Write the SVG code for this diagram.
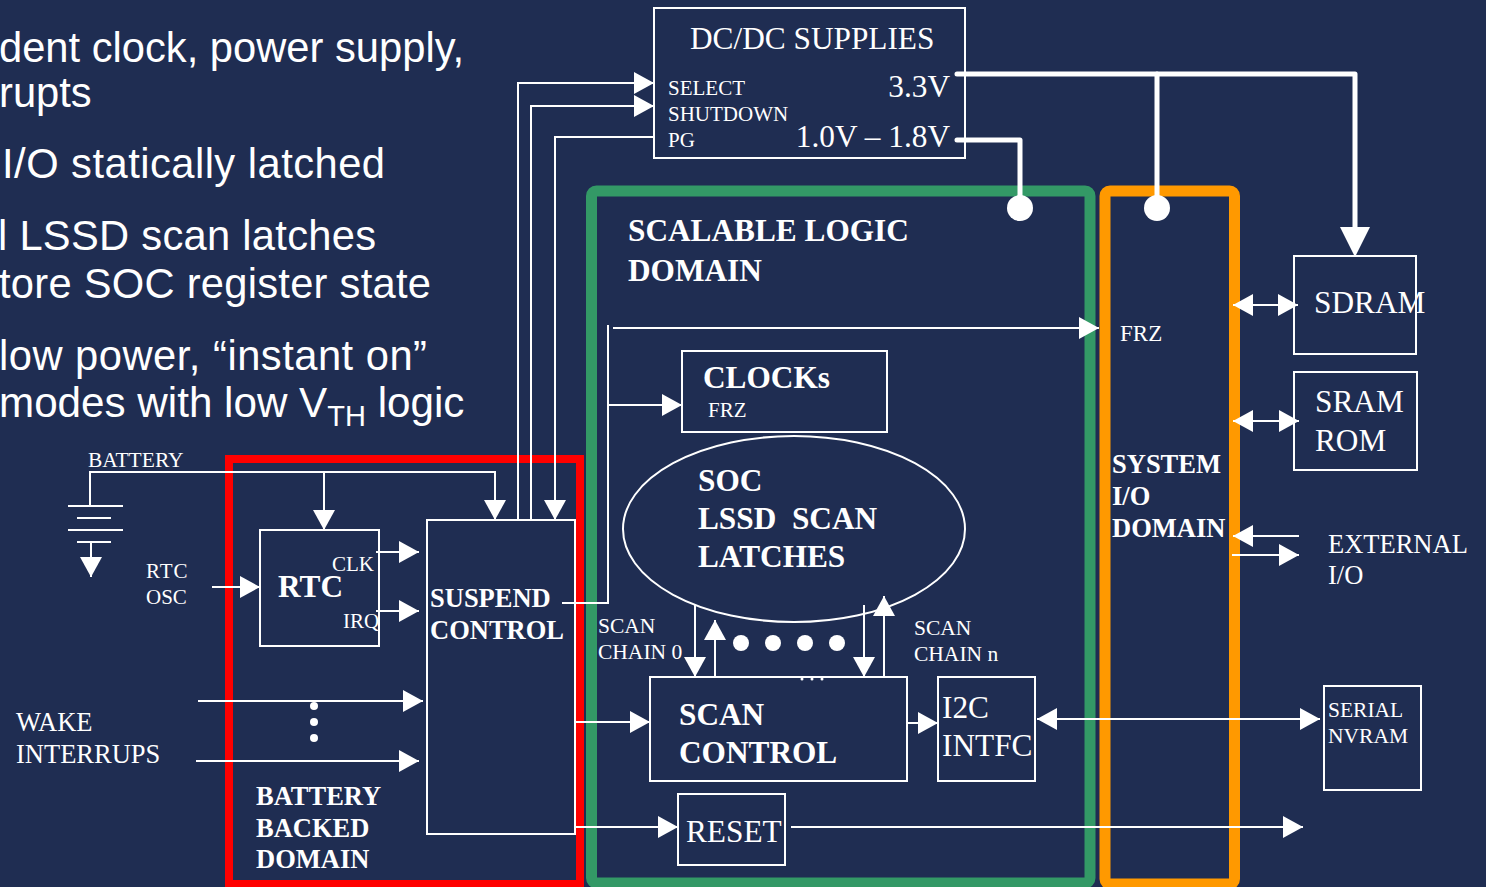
<svg xmlns="http://www.w3.org/2000/svg" width="1486" height="887" viewBox="0 0 1486 887">
<style>
.bg{fill:#1f2d52}
text{fill:#fff;font-family:"Liberation Serif","Times New Roman",serif}
.sans{font-family:"Liberation Sans",Arial,sans-serif;font-size:41.7px}
.b{font-weight:bold}
.s20{font-size:21px}
.s21{font-size:21.5px}
.s23{font-size:23px}
.s26{font-size:26.5px}
.s31{font-size:31.3px}
.box{fill:none;stroke:#fff;stroke-width:2}
.ln{fill:none;stroke:#fff;stroke-width:2}
.pw{fill:none;stroke:#fff;stroke-width:5;stroke-linecap:round;stroke-linejoin:round}
.dot{fill:#fff}
.ah{marker-end:url(#ah)}
.dbl{marker-start:url(#ah);marker-end:url(#ah)}
</style>
<defs>
<marker id="ah" markerUnits="userSpaceOnUse" markerWidth="20" markerHeight="22" refX="20" refY="11" orient="auto-start-reverse" viewBox="0 0 20 22"><path d="M0,0 L20,11 L0,22 z" fill="#fff"/></marker>
<marker id="big" markerUnits="userSpaceOnUse" markerWidth="30" markerHeight="30" refX="30" refY="15" orient="auto" viewBox="0 0 30 30"><path d="M0,0 L30,15 L0,30 z" fill="#fff"/></marker>
</defs>
<rect class="bg" x="0" y="0" width="1486" height="887"/>

<g id="bullets">
<text class="sans" x="-1" y="62">dent clock, power supply,</text>
<text class="sans" x="-1" y="107">rupts</text>
<text class="sans" x="2" y="178" textLength="383" lengthAdjust="spacing">I/O statically latched</text>
<text class="sans" x="-2" y="250" textLength="378" lengthAdjust="spacing">l LSSD scan latches</text>
<text class="sans" x="-1" y="298" textLength="432" lengthAdjust="spacing">tore SOC register state</text>
<text class="sans" x="-1" y="370" textLength="428" lengthAdjust="spacing">low power, “instant on”</text>
<text class="sans" x="-1" y="417" style="font-size:42.2px">modes with low V<tspan font-size="29" dy="9">TH</tspan><tspan dy="-9"> logic</tspan></text>
</g>

<g id="domains">
<rect id="battery-backed-domain" x="229" y="459" width="351" height="425" fill="none" stroke="#ff0000" stroke-width="8"/>
<rect id="scalable-logic-domain" x="591.5" y="191" width="498.5" height="692" rx="5" fill="none" stroke="#339966" stroke-width="11"/>
<rect id="system-io-domain" x="1105" y="191" width="129.5" height="693" rx="5" fill="none" stroke="#ff9900" stroke-width="11"/>
</g>

<g id="connectors">
<path class="ln ah" d="M518,520 V83 H654"/>
<path class="ln ah" d="M531,520 V106 H654"/>
<path class="ln ah" d="M654,137 H555 V520"/>
<path class="ln ah" d="M90,506 V472 H495 V520"/>
<path class="ln ah" d="M324,472 V530"/>
<path class="ln ah" d="M91,542 V577"/>
<path class="ln ah" d="M212,587 H260"/>
<path class="ln ah" d="M376,552 H419"/>
<path class="ln ah" d="M376,611 H419"/>
<path class="ln ah" d="M198,701 H423"/>
<path class="ln ah" d="M196,761 H419"/>
<path class="ln" d="M562,603 H608 V325"/>
<path class="ln ah" d="M613,328 H1099"/>
<path class="ln ah" d="M608,405 H682"/>
<path class="ln ah" d="M575,722 H650"/>
<path class="ln ah" d="M575,827 H678"/>
<path class="ln ah" d="M695,605 V677"/>
<path class="ln ah" d="M715,677 V620"/>
<path class="ln ah" d="M864,605 V677"/>
<path class="ln ah" d="M884,677 V596"/>
<path class="ln ah" d="M907,723 H938"/>
<path class="ln dbl" d="M1037,719 H1320"/>
<path class="ln ah" d="M791,827 H1303"/>
<path class="ln dbl" d="M1233,305 H1298"/>
<path class="ln dbl" d="M1233,421 H1299"/>
<path class="ln ah" d="M1299,536 H1233"/>
<path class="ln ah" d="M1232,555 H1299"/>
<path class="pw" d="M957,74 H1355 V230" />
<path d="M1355,226 V257" stroke="none" fill="none" marker-end="url(#big)"/>
<path class="pw" d="M1157,74 V208"/>
<path class="pw" d="M957,140 H1020 V208"/>
<circle class="dot" cx="1020" cy="208" r="13"/>
<circle class="dot" cx="1157" cy="208" r="13"/>
</g>

<g id="battery">
<text class="s21" x="88" y="467">BATTERY</text>
<path class="ln" d="M68,506 H123 M77,518 H111 M68,530 H123 M77,542 H111"/>
</g>

<g id="rtc-osc">
<text class="s20" x="146" y="578" letter-spacing="1">RTC</text>
<text class="s20" x="146" y="604">OSC</text>
</g>

<g id="rtc">
<rect class="box" x="260" y="530" width="119" height="116"/>
<text class="s31 b" x="278" y="597">RTC</text>
<text class="s20" x="332" y="571">CLK</text>
<text class="s20" x="343" y="628">IRQ</text>
</g>

<g id="suspend-control">
<rect class="box" x="427" y="520" width="148" height="314"/>
<text class="s26 b" x="430" y="607">SUSPEND</text>
<text class="s26 b" x="430" y="639">CONTROL</text>
</g>

<g id="wake-interrupts">
<text class="s26" x="16" y="731">WAKE</text>
<text class="s26" x="16" y="763">INTERRUPS</text>
<circle class="dot" cx="314" cy="706" r="4"/>
<circle class="dot" cx="314" cy="722" r="4"/>
<circle class="dot" cx="314" cy="738" r="4"/>
</g>

<g id="battery-backed-label">
<text class="s26 b" x="256" y="805">BATTERY</text>
<text class="s26 b" x="256" y="837">BACKED</text>
<text class="s26 b" x="256" y="868">DOMAIN</text>
</g>

<g id="dcdc-supplies">
<rect class="box" x="654" y="8" width="311" height="150"/>
<text class="s31" x="690" y="49">DC/DC SUPPLIES</text>
<text class="s20" x="668" y="95">SELECT</text>
<text class="s20" x="668" y="121">SHUTDOWN</text>
<text class="s20" x="668" y="147">PG</text>
<text class="s31" x="950" y="97" text-anchor="end">3.3V</text>
<text class="s31" x="950" y="147" text-anchor="end">1.0V – 1.8V</text>
</g>

<g id="scalable-logic-label">
<text class="s31 b" x="628" y="241">SCALABLE LOGIC</text>
<text class="s31 b" x="628" y="281">DOMAIN</text>
</g>

<g id="clocks">
<rect class="box" x="682" y="351" width="205" height="81"/>
<text class="s31 b" x="703" y="388">CLOCKs</text>
<text class="s20" x="708" y="417">FRZ</text>
</g>

<g id="soc-latches">
<ellipse class="box" cx="794" cy="529" rx="171" ry="93"/>
<text class="s31 b" x="698" y="491">SOC</text>
<text class="s31 b" x="698" y="529" xml:space="preserve">LSSD  SCAN</text>
<text class="s31 b" x="698" y="567">LATCHES</text>
</g>

<g id="scan-chains">
<text class="s21" x="598" y="633">SCAN</text>
<text class="s21" x="598" y="659">CHAIN 0</text>
<text class="s21" x="914" y="635">SCAN</text>
<text class="s21" x="914" y="661">CHAIN n</text>
<circle class="dot" cx="741" cy="643" r="8"/>
<circle class="dot" cx="773" cy="643" r="8"/>
<circle class="dot" cx="805" cy="643" r="8"/>
<circle class="dot" cx="837" cy="643" r="8"/>
</g>

<g id="scan-control">
<rect class="box" x="650" y="677" width="257" height="104"/>
<circle class="dot" cx="802" cy="679" r="1.5"/>
<circle class="dot" cx="812" cy="679" r="1.5"/>
<circle class="dot" cx="822" cy="679" r="1.5"/>
<text class="s31 b" x="679" y="725">SCAN</text>
<text class="s31 b" x="679" y="763">CONTROL</text>
</g>

<g id="i2c-intfc">
<rect class="box" x="938" y="677" width="97" height="104"/>
<text class="s31" x="942" y="718">I2C</text>
<text class="s31" x="942" y="756">INTFC</text>
</g>

<g id="reset">
<rect class="box" x="678" y="794" width="107" height="71"/>
<text class="s31" x="686" y="842">RESET</text>
</g>

<g id="frz-label">
<text class="s23" x="1120" y="341">FRZ</text>
</g>

<g id="system-io-label">
<text class="s26 b" x="1112" y="473">SYSTEM</text>
<text class="s26 b" x="1112" y="505">I/O</text>
<text class="s26 b" x="1112" y="537">DOMAIN</text>
</g>

<g id="sdram">
<rect class="box" x="1294" y="256" width="122" height="98"/>
<text class="s31" x="1314" y="313">SDRAM</text>
</g>

<g id="sram-rom">
<rect class="box" x="1294" y="372" width="123" height="98"/>
<text class="s31" x="1315" y="412">SRAM</text>
<text class="s31" x="1315" y="451">ROM</text>
</g>

<g id="external-io">
<text class="s26" x="1328" y="553">EXTERNAL</text>
<text class="s26" x="1328" y="584">I/O</text>
</g>

<g id="serial-nvram">
<rect class="box" x="1324" y="686" width="97" height="104"/>
<text class="s21" x="1328" y="717">SERIAL</text>
<text class="s21" x="1328" y="743">NVRAM</text>
</g>
</svg>
